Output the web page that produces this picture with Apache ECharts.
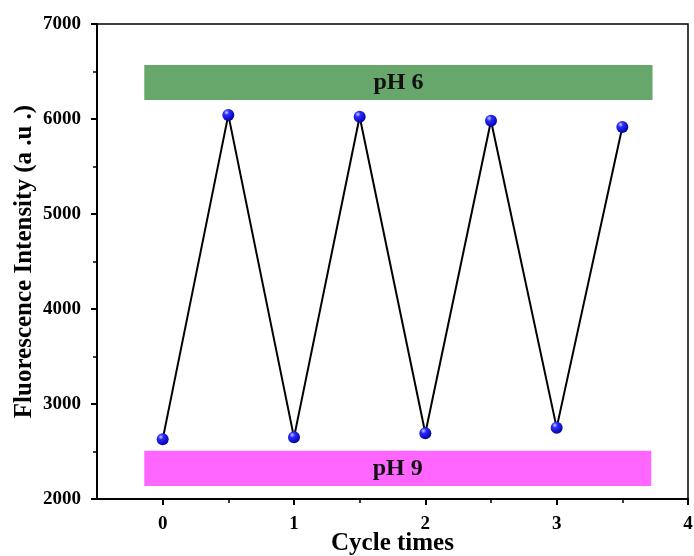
<!DOCTYPE html>
<html>
<head>
<meta charset="utf-8">
<script src="https://cdn.jsdelivr.net/npm/echarts@6/dist/echarts.min.js"></script>
<style>
  html, body { margin: 0; padding: 0; background: #fff; }
  #chart { width: 694px; height: 556px; }
</style>
</head>
<body>
<div id="chart"></div>
<script>
// 数据
var cycleX = [0, 0.5, 1, 1.5, 2, 2.5, 3, 3.5];
var intensity = [2628, 6043, 2649, 6024, 2692, 5982, 2751, 5916];
var xTicks = [0, 1, 2, 3, 4];
var xMinorTicks = [0.5, 1.5, 2.5, 3.5];
// 背景色带 [x起, y起, x止, y止, 文字]
var bandPH6 = [-0.14, 6200, 3.73, 6568, 'pH 6'];
var bandPH9 = [-0.14, 2137, 3.72, 2508, 'pH 9'];

var serif = '"Liberation Serif", "DejaVu Serif", serif';

var chart = echarts.init(document.getElementById('chart'));

var pts = cycleX.map(function (x, i) { return [x, intensity[i]]; });

function band(b, color) {
    return [{
        coord: [b[0], b[1]],
        name: b[4],
        itemStyle: { color: color },
        label: {
            show: true,
            position: 'inside',
            color: '#111',
            fontFamily: serif,
            fontWeight: 'bold',
            fontSize: 24
        }
    }, {
        coord: [b[2], b[3]]
    }];
}

var option = {
    backgroundColor: '#fff',
    animation: false,
    grid: {
        left: 97,
        right: 6,
        top: 24,
        bottom: 57,
        outerBoundsMode: 'none',
        containLabel: false,
        show: true,
        borderColor: '#000',
        borderWidth: 1.5,
        backgroundColor: 'transparent'
    },
    xAxis: [{
        type: 'value',
        min: -0.5,
        max: 4,
        name: 'Cycle times',
        nameLocation: 'middle',
        nameGap: 32,
        nameMoveOverlap: false,
        nameTextStyle: {
            color: '#000',
            fontFamily: serif,
            fontWeight: 'bold',
            fontSize: 25
        },
        axisLine: { show: true, onZero: false, lineStyle: { color: '#000', width: 2 } },
        axisTick: { show: true, customValues: xTicks, length: 6, lineStyle: { color: '#000', width: 2 } },
        axisLabel: {
            customValues: xTicks,
            margin: 16,
            color: '#000',
            fontFamily: serif,
            fontWeight: 'bold',
            fontSize: 19
        },
        splitLine: { show: false }
    }, {
        type: 'value',
        min: -0.5,
        max: 4,
        position: 'bottom',
        axisLine: { show: false, onZero: false },
        axisTick: { show: true, customValues: xMinorTicks, length: 4, lineStyle: { color: '#000', width: 1.5 } },
        axisLabel: { show: false },
        splitLine: { show: false }
    }],
    yAxis: {
        type: 'value',
        min: 2000,
        max: 7000,
        interval: 1000,
        name: 'Fluorescence Intensity (a .u .)',
        nameLocation: 'middle',
        nameGap: 60,
        nameMoveOverlap: false,
        nameTextStyle: {
            color: '#000',
            fontFamily: serif,
            fontWeight: 'bold',
            fontSize: 25
        },
        axisLine: { show: true, onZero: false, lineStyle: { color: '#000', width: 2 } },
        axisTick: { show: true, length: 6, lineStyle: { color: '#000', width: 2 } },
        minorTick: { show: true, splitNumber: 2, length: 4, lineStyle: { color: '#000', width: 1.5 } },
        axisLabel: {
            margin: 16,
            color: '#000',
            fontFamily: serif,
            fontWeight: 'bold',
            fontSize: 19,
            formatter: function (v) { return String(v); }
        },
        splitLine: { show: false }
    },
    series: [{
        type: 'line',
        data: pts,
        z: 3,
        lineStyle: { color: '#000', width: 2 },
        symbol: 'circle',
        symbolSize: 12,
        itemStyle: {
            color: new echarts.graphic.RadialGradient(0.35, 0.3, 0.75, [
                { offset: 0, color: '#c8ccff' },
                { offset: 0.3, color: '#2a2aff' },
                { offset: 1, color: '#0000a0' }
            ]),
            borderWidth: 0
        },
        markArea: {
            silent: true,
            z: 1,
            data: [band(bandPH6, '#67a76b'), band(bandPH9, '#ff66ff')]
        }
    }]
};

chart.setOption(option);
</script>
</body>
</html>
